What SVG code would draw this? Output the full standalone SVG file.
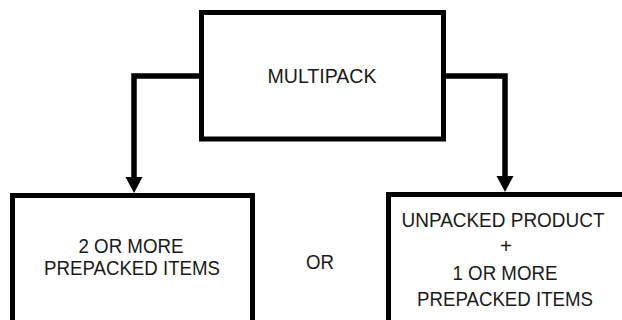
<svg xmlns="http://www.w3.org/2000/svg" width="622" height="320" viewBox="0 0 622 320">
<style>
.box{fill:#fff;stroke:#000;stroke-width:5}
.conn{fill:none;stroke:#000;stroke-width:5.5}
.head{fill:#000}
text{font-family:"Liberation Sans",Arial,sans-serif;font-size:20.5px;fill:#1a1a1a;text-anchor:middle}
</style>
<rect width="622" height="320" fill="#fff"/>
<g id="connectors">
<path class="conn" d="M199,76 H134 V180"/>
<polygon class="head" points="125.5,177 142.5,177 134,193"/>
<path class="conn" d="M446,76 H505 V179"/>
<polygon class="head" points="496.5,176 513.5,176 505,192"/>
</g>
<g id="multipack">
<rect class="box" x="201.5" y="12.5" width="242" height="126.5"/>
<text x="322" y="83" textLength="109" lengthAdjust="spacingAndGlyphs">MULTIPACK</text>
</g>
<g id="prepacked">
<rect class="box" x="12.5" y="195.5" width="240" height="140"/>
<text x="131" y="253" textLength="105" lengthAdjust="spacingAndGlyphs">2 OR MORE</text>
<text x="132" y="275" textLength="176" lengthAdjust="spacingAndGlyphs">PREPACKED ITEMS</text>
</g>
<g id="or">
<text x="320" y="269" textLength="28" lengthAdjust="spacingAndGlyphs">OR</text>
</g>
<g id="unpacked">
<rect class="box" x="388.5" y="194.5" width="250" height="140"/>
<text x="503" y="227" textLength="203" lengthAdjust="spacingAndGlyphs">UNPACKED PRODUCT</text>
<text x="506" y="253">+</text>
<text x="505" y="280" textLength="105" lengthAdjust="spacingAndGlyphs">1 OR MORE</text>
<text x="505" y="306" textLength="176" lengthAdjust="spacingAndGlyphs">PREPACKED ITEMS</text>
</g>
</svg>
